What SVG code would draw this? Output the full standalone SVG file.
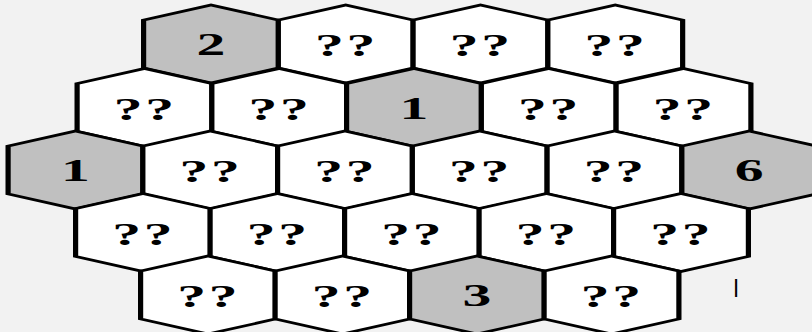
<svg xmlns="http://www.w3.org/2000/svg" xmlns:xlink="http://www.w3.org/1999/xlink" width="812" height="332" viewBox="0 0 812 332">
<defs>
<polygon id="hex" points="0,-39 33.7,-24 33.7,24 0,39 -33.7,24 -33.7,-24"/>
<style>
.w{fill:#ffffff;stroke:#000;stroke-width:2.6;stroke-linejoin:miter}
.g{fill:#c0c0c0;stroke:#000;stroke-width:2.6;stroke-linejoin:miter}
.t{font-family:"Liberation Serif","Times New Roman",serif;font-weight:bold;font-size:32px;fill:#000;text-anchor:middle}
.q{letter-spacing:1.5px}
</style>
</defs>
<rect width="812" height="332" fill="#f2f2f2"/>
<g id="r1c1"><use href="#hex" class="g" transform="translate(211,44) scale(2,1)"/><text class="t" transform="translate(211,55) scale(1.8,1)">2</text></g>
<g id="r1c2"><use href="#hex" class="w" transform="translate(345.75,44) scale(2,1)"/><text class="t q" transform="translate(346.5,56) scale(1.8,1)">??</text></g>
<g id="r1c3"><use href="#hex" class="w" transform="translate(480.5,44) scale(2,1)"/><text class="t q" transform="translate(481.25,56) scale(1.8,1)">??</text></g>
<g id="r1c4"><use href="#hex" class="w" transform="translate(615.25,44) scale(2,1)"/><text class="t q" transform="translate(616,56) scale(1.8,1)">??</text></g>

<g id="r2c1"><use href="#hex" class="w" transform="translate(144.5,107.5) scale(2,1)"/><text class="t q" transform="translate(145.25,119.5) scale(1.8,1)">??</text></g>
<g id="r2c2"><use href="#hex" class="w" transform="translate(279.25,107.5) scale(2,1)"/><text class="t q" transform="translate(280,119.5) scale(1.8,1)">??</text></g>
<g id="r2c3"><use href="#hex" class="g" transform="translate(414,107.5) scale(2,1)"/><text class="t" transform="translate(414,118.5) scale(1.8,1)">1</text></g>
<g id="r2c4"><use href="#hex" class="w" transform="translate(548.75,107.5) scale(2,1)"/><text class="t q" transform="translate(549.5,119.5) scale(1.8,1)">??</text></g>
<g id="r2c5"><use href="#hex" class="w" transform="translate(683.5,107.5) scale(2,1)"/><text class="t q" transform="translate(684.25,119.5) scale(1.8,1)">??</text></g>

<g id="r3c1"><use href="#hex" class="g" transform="translate(75.5,170) scale(2,1)"/><text class="t" transform="translate(75.5,181) scale(1.8,1)">1</text></g>
<g id="r3c2"><use href="#hex" class="w" transform="translate(210.25,170) scale(2,1)"/><text class="t q" transform="translate(211,182) scale(1.8,1)">??</text></g>
<g id="r3c3"><use href="#hex" class="w" transform="translate(345,170) scale(2,1)"/><text class="t q" transform="translate(345.75,182) scale(1.8,1)">??</text></g>
<g id="r3c4"><use href="#hex" class="w" transform="translate(479.75,170) scale(2,1)"/><text class="t q" transform="translate(480.5,182) scale(1.8,1)">??</text></g>
<g id="r3c5"><use href="#hex" class="w" transform="translate(614.5,170) scale(2,1)"/><text class="t q" transform="translate(615.25,182) scale(1.8,1)">??</text></g>
<g id="r3c6"><use href="#hex" class="g" transform="translate(749.25,170) scale(2,1)"/><text class="t" transform="translate(749.25,181) scale(1.8,1)">6</text></g>

<g id="r4c1"><use href="#hex" class="w" transform="translate(143,232.5) scale(2,1)"/><text class="t q" transform="translate(143.75,244.5) scale(1.8,1)">??</text></g>
<g id="r4c2"><use href="#hex" class="w" transform="translate(277.5,232.5) scale(2,1)"/><text class="t q" transform="translate(278.25,244.5) scale(1.8,1)">??</text></g>
<g id="r4c3"><use href="#hex" class="w" transform="translate(412,232.5) scale(2,1)"/><text class="t q" transform="translate(412.75,244.5) scale(1.8,1)">??</text></g>
<g id="r4c4"><use href="#hex" class="w" transform="translate(546.5,232.5) scale(2,1)"/><text class="t q" transform="translate(547.25,244.5) scale(1.8,1)">??</text></g>
<g id="r4c5"><use href="#hex" class="w" transform="translate(681,232.5) scale(2,1)"/><text class="t q" transform="translate(681.75,244.5) scale(1.8,1)">??</text></g>

<g id="r5c1"><use href="#hex" class="w" transform="translate(208,295) scale(2,1)"/><text class="t q" transform="translate(208.75,307) scale(1.8,1)">??</text></g>
<g id="r5c2"><use href="#hex" class="w" transform="translate(342.5,295) scale(2,1)"/><text class="t q" transform="translate(343.25,307) scale(1.8,1)">??</text></g>
<g id="r5c3"><use href="#hex" class="g" transform="translate(477,295) scale(2,1)"/><text class="t" transform="translate(477,306) scale(1.8,1)">3</text></g>
<g id="r5c4"><use href="#hex" class="w" transform="translate(611.5,295) scale(2,1)"/><text class="t q" transform="translate(612.25,307) scale(1.8,1)">??</text></g>

<g id="connectors"></g>
<text x="736" y="297" font-family="Liberation Sans, sans-serif" font-size="23" text-anchor="middle" fill="#000">l</text>
</svg>
